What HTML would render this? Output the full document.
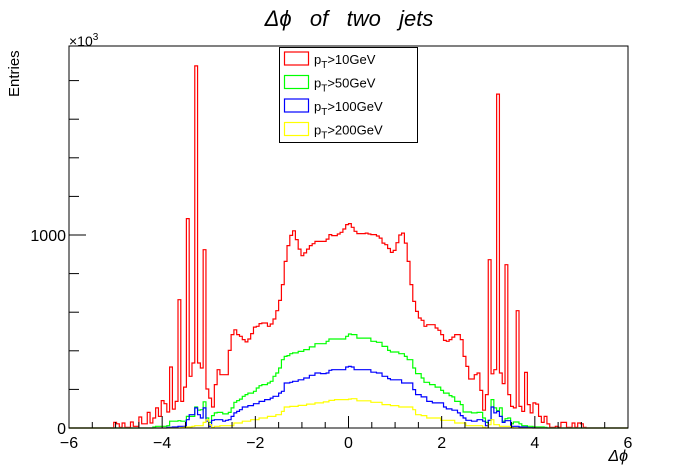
<!DOCTYPE html>
<html><head><meta charset="utf-8">
<style>
body{margin:0;background:#fff;}
svg{display:block;font-family:"Liberation Sans",sans-serif;}
</style></head>
<body>
<svg id="chart" width="698" height="476" viewBox="0 0 698 476">
<rect x="0" y="0" width="698" height="476" fill="#fff"/>
<text x="349" y="26" text-anchor="middle" font-size="22" font-style="italic">Δϕ&#160;&#160;&#160;of&#160;&#160;&#160;two&#160;&#160;&#160;jets</text>
<text x="69" y="46" font-size="14">×10<tspan dy="-6" font-size="10">3</tspan></text>
<text transform="translate(19,97) rotate(-90)" font-size="15">Entries</text>
<text x="628" y="461" text-anchor="end" font-size="16" font-style="italic">Δϕ</text>
<g id="hists"></g>
<g id="axes"></g>
<g id="legend">
<rect x="279.5" y="47.5" width="138" height="95" fill="#fff" stroke="#000" stroke-width="1"/>
</g>
</svg>
<script>
const xMin = -6, xMax = 6, nBins = 200;
const redStart = 16;
const redValues = [29,22,3,26,3,3,31,9,9,57,22,22,81,26,52,104,60,142,126,83,316,98,138,665,138,212,1085,268,337,1876,337,311,924,202,155,109,225,302,276,276,276,402,484,509,484,475,458,446,461,489,523,527,541,544,544,527,539,565,608,661,743,863,945,998,1022,976,927,893,907,927,945,955,967,967,967,967,979,1002,997,997,1005,1014,1031,1054,1059,
1040,1019,1007,1007,1007,1010,1005,1002,1002,995,984,958,950,930,910,920,960,1000,1010,958,863,743,656,604,570,558,527,535,535,535,518,506,484,454,449,458,471,484,484,458,371,319,254,254,276,285,195,92,173,872,281,302,1730,285,230,846,173,112,104,608,112,86,288,121,78,130,124,60,29,60,21,3,3,9,3,29,29,3,3,26,3,26,22,3];
const greenStart = 30;
const greenValues = [5,9,9,9,9,12,35,35,35,38,35,35,60,60,60,109,92,95,136,52,29,64,78,81,81,73,73,81,104,133,142,150,164,173,181,181,190,207,219,225,225,233,242,268,285,311,354,371,375,385,389,389,397,397,406,406,420,420,437,437,437,437,449,461,461,461,461,461,461,475,487,
484,484,466,466,466,466,466,449,449,444,444,423,423,402,394,394,394,385,385,371,354,354,311,282,282,259,237,237,225,225,212,212,195,181,181,168,161,138,138,121,83,83,83,78,78,81,81,52,29,40,147,104,90,104,35,48,52,22,31,31,22,12,12,9,9,5,5,5,5,3];
const blueStart = 35;
const blueValues = [3,3,5,5,9,9,9,43,69,69,104,69,52,104,35,9,40,43,43,43,35,40,43,60,78,86,95,109,109,116,116,126,126,138,138,147,147,155,164,164,181,190,233,233,237,242,242,250,250,259,259,273,273,285,285,282,282,285,299,302,302,302,302,302,316,319,
316,302,302,302,302,302,302,289,289,285,285,268,268,256,250,250,250,250,233,233,233,233,199,173,173,161,161,138,138,130,130,130,130,109,99,99,92,92,78,64,52,40,40,35,35,43,43,35,12,40,109,78,86,60,29,38,38,9,9,9,5,5,5,2,2];
const yellowStart = 40;
const yellowValues = [2,3,5,5,9,12,12,12,29,43,17,2,9,9,12,12,12,12,12,26,26,26,35,35,35,43,43,43,52,52,52,60,60,60,69,69,86,109,109,112,112,112,117,117,117,124,124,124,130,130,130,135,135,143,143,147,147,147,147,147,150,
152,152,141,141,141,141,141,133,133,133,133,121,121,121,116,116,116,109,109,109,109,109,95,69,69,64,64,52,52,52,52,52,40,40,40,40,40,26,26,26,26,12,12,12,12,12,12,3,0,17,43,17,17,9,9,9,9,2];
const xTickLabels = ["−6","−4","−2","0","2","4","6"];
const xTickValues = [-6,-4,-2,0,2,4,6];
const yTickLabels = ["0","1000"];
const yTickValues = [0,1000];

const X0 = 69, X1 = 628, Y0 = 428, YTOP = 46;
const yPerUnit = 193/1000;
function sx(v){ return X0 + (v - xMin) / (xMax - xMin) * (X1 - X0); }
function sy(v){ return Y0 - v * yPerUnit; }
const NS = "http://www.w3.org/2000/svg";
function mk(tag, attrs, parent){
  const e = document.createElementNS(NS, tag);
  for (const k in attrs) e.setAttribute(k, attrs[k]);
  parent.appendChild(e); return e;
}
function full(start, vals){
  const a = new Array(nBins).fill(0);
  vals.forEach((v,i)=>{ if (start+i < nBins) a[start+i] = v; });
  return a;
}
const series = [
  {name:"hist-pt10", color:"#ff0000", data: full(redStart, redValues), label:">10GeV"},
  {name:"hist-pt50", color:"#00ff00", data: full(greenStart, greenValues), label:">50GeV"},
  {name:"hist-pt100", color:"#0000ff", data: full(blueStart, blueValues), label:">100GeV"},
  {name:"hist-pt200", color:"#ffff00", data: full(yellowStart, yellowValues), label:">200GeV"}
];
const hg = document.getElementById("hists");
const bw = (xMax - xMin) / nBins;
series.forEach(s=>{
  let d = "M" + sx(xMin) + " " + sy(0);
  s.data.forEach((v,i)=>{
    const xa = sx(xMin + i*bw), xb = sx(xMin + (i+1)*bw), y = sy(v).toFixed(1);
    d += " L" + xa.toFixed(2) + " " + y + " L" + xb.toFixed(2) + " " + y;
  });
  d += " L" + sx(xMax) + " " + sy(0);
  const p = mk("path", {d:d, fill:"none", stroke:s.color, "stroke-width":1.2}, hg);
  
  
});
const ax = document.getElementById("axes");
const frame = mk("path", {d:`M${X0} ${YTOP} H${X1} V${Y0} H${X0} Z`, fill:"none", stroke:"#000", "stroke-width":1}, ax);


// x ticks
for (let v = xMin; v <= xMax + 1e-9; v += 0.5){
  const major = Math.abs(v/2 - Math.round(v/2)) < 1e-9;
  const t = mk("line", {x1:sx(v), x2:sx(v), y1:Y0, y2:Y0-(major?12:6), stroke:"#000", "stroke-width":1}, ax);
  
  
}
xTickValues.forEach((v,i)=>{
  const t = mk("text", {x:sx(v), y:Y0+20, "text-anchor":"middle", "font-size":16}, ax);
  t.textContent = xTickLabels[i];
  
  
});
// y ticks
for (let v = 0; v <= 1900; v += 200){
  const major = v % 1000 === 0;
  const t = mk("line", {x1:X0, x2:X0+(major?17:10), y1:sy(v), y2:sy(v), stroke:"#000", "stroke-width":1}, ax);
  
  
}
yTickValues.forEach((v,i)=>{
  const t = mk("text", {x:X0-3, y:sy(v)+6, "text-anchor":"end", "font-size":16}, ax);
  t.textContent = yTickLabels[i];
  
  
});
// legend
const lg = document.getElementById("legend");
series.forEach((s,i)=>{
  const y = 52 + i*23.5;
  const r = mk("rect", {x:284.5, y:y, width:24, height:13, fill:"none", stroke:s.color, "stroke-width":1.2}, lg);
  
  
  const t = mk("text", {x:314, y:y+12, "font-size":13}, lg);
  t.innerHTML = 'p<tspan dy="4" font-size="10">T</tspan><tspan dy="-4">' + s.label + '</tspan>';
  
  
});
</script>
</body></html>
